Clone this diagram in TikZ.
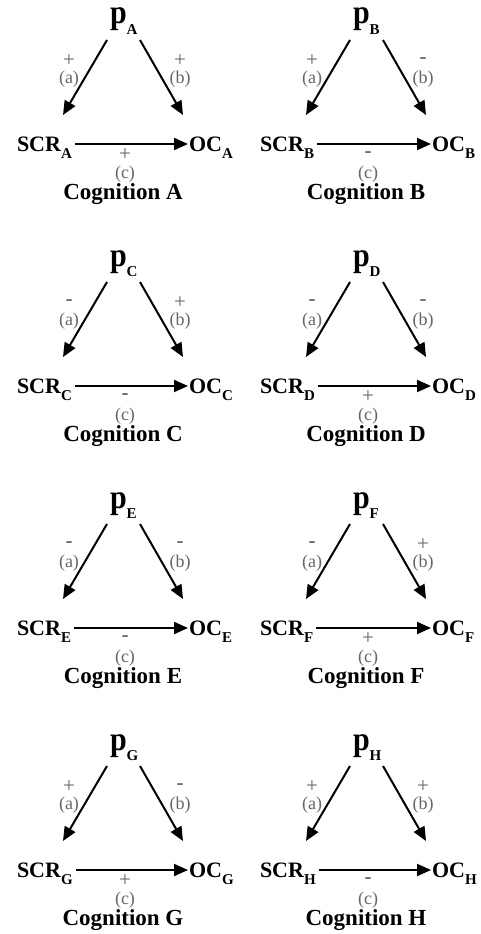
\documentclass[tikz,border=0pt]{standalone}
\usepackage{fontspec}
\setmainfont{Liberation Serif}
\usetikzlibrary{arrows.meta}
\definecolor{lblgray}{HTML}{666666}
\tikzset{
  x=1pt, y=-1pt,
  every node/.style={inner sep=0pt, outer sep=0pt},
  pnode/.style={anchor=base west, font=\bfseries\fontsize{30}{30}\selectfont},
  term/.style={anchor=base west, font=\bfseries\fontsize{22}{22}\selectfont},
  cogn/.style={anchor=base, font=\bfseries\fontsize{23}{23}\selectfont},
  sgn/.style={anchor=center, text=lblgray, font=\fontsize{21}{21}\selectfont},
  lbl/.style={anchor=center, text=lblgray, font=\fontsize{18}{18}\selectfont},
  link/.style={line width=2pt, -{Triangle[length=14pt,width=12pt]}},
}
\newcommand\subtxt[2]{\raisebox{#1}{\fontsize{15}{15}\selectfont #2}}
\newcommand\mn{{\bfseries -}}
\newcommand\panel[6]{%
  \begin{scope}[shift={(#1,#2)}]
    \node[pnode] (p#3) at (110,24) {\scalebox{1}[1.12]{p}\subtxt{-10pt}{#3}};
    \node[term] (scr#3) at (17,151) {SCR\subtxt{-7pt}{#3}};
    \node[term] (oc#3) at (189,151) {OC\subtxt{-7pt}{#3}};
    \node[cogn] (cog#3) at (123,199) {Cognition #3};
    \draw[link] ([shift={(-3pt,-16pt)}]p#3.base west) -- ([shift={(46pt,36pt)}]scr#3.base west);
    \draw[link] ([shift={(30pt,-16pt)}]p#3.base west) -- ([shift={(-6pt,36pt)}]oc#3.base west);
    \draw[link] ([shift={(3pt,7pt)}]scr#3.base east) -- ([shift={(-1pt,7pt)}]oc#3.base west);
    \node[sgn] (sa#3) at (69,61) {#4};
    \node[lbl] (la#3) at (69,79) {(a)};
    \node[sgn] (sb#3) at (180,61) {#5};
    \node[lbl] (lb#3) at (180,79) {(b)};
    \node[sgn] (sc#3) at (125,155) {#6};
    \node[lbl] (lc#3) at (125,174) {(c)};
  \end{scope}}
\begin{document}
\begin{tikzpicture}
  \useasboundingbox (0,0) rectangle (481,934);
  \panel{0}{0}{A}{+}{+}{+}
  \panel{243}{0}{B}{+}{\mn}{\mn}
  \panel{0}{242}{C}{\mn}{+}{\mn}
  \panel{243}{242}{D}{\mn}{\mn}{+}
  \panel{0}{484}{E}{\mn}{\mn}{\mn}
  \panel{243}{484}{F}{\mn}{+}{+}
  \panel{0}{726}{G}{+}{\mn}{+}
  \panel{243}{726}{H}{+}{+}{\mn}
\end{tikzpicture}
\end{document}
